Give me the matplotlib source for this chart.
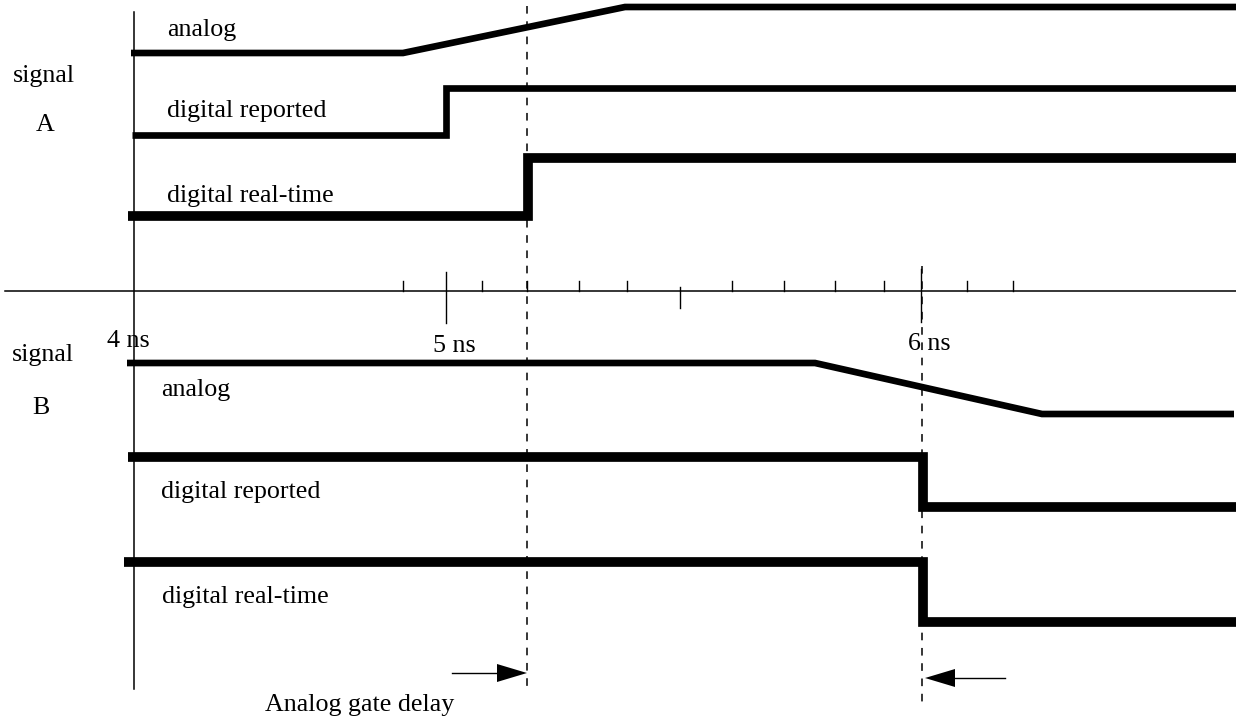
import matplotlib
matplotlib.use("Agg")
from matplotlib import pyplot as plt

# diagram is drawn in picture units (x to the right, y downwards)
axis_x     = 134
axis_y     = 291
axis_top   = 12
axis_bot   = 689
axis_left  = 5
axis_right = 1236

# tick marks on the time axis: position, top, bottom
tick_x   = [403, 446, 482, 527, 579, 627, 680, 732, 784, 835, 884, 921, 967, 1013]
tick_top = [281, 272, 281, 281, 281, 281, 287, 281, 281, 281, 281, 269, 281, 281]
tick_bot = [291, 323, 291, 291, 291, 291, 308, 291, 291, 291, 291, 322, 291, 291]
tick_lab   = ["4 ns", "5 ns", "6 ns"]
tick_lab_x = [107, 433, 908]
tick_lab_y = [347, 352, 350]

# signal A traces
a_analog_x   = [131, 403, 625, 1236]
a_analog_y   = [53, 53, 7, 7]
a_report_x   = [132, 446, 446, 1236]
a_report_y   = [135, 135, 88, 88]
a_real_x     = [128, 528, 528, 1236]
a_real_y     = [216, 216, 158, 158]

# signal B traces
b_analog_x   = [127, 815, 1042, 1234]
b_analog_y   = [363, 363, 414, 414]
b_report_x   = [128, 923, 923, 1236]
b_report_y   = [457, 457, 507, 507]
b_real_x     = [124, 923, 923, 1236]
b_real_y     = [562, 562, 622, 622]

# dashed markers
dash_x   = [527, 922]
dash_top = [6, 266]
dash_bot = [689, 704]

# labels
labels   = ["signal", "A", "analog", "digital reported", "digital real-time",
            "signal", "B", "analog", "digital reported", "digital real-time",
            "Analog gate delay"]
labels_x = [13, 36, 167, 167, 167, 12, 32, 161, 161, 162, 265]
labels_y = [82, 131, 36, 117, 202, 361, 414, 396, 498, 603, 711]

# arrows: tail, tip, y
arrow_tail = [452, 1005]
arrow_tip  = [527, 925]
arrow_y    = [673, 678]
head_len   = 30
head_half  = 9

fig = plt.figure(figsize=(12.36, 7.17), dpi=100)
ax = fig.add_axes([0, 0, 1, 1])
ax.set_xlim(0, 1236)
ax.set_ylim(717, 0)
ax.axis("off")

# axes
ax.plot([axis_x, axis_x], [axis_top, axis_bot], color="black", lw=1.1)
ax.plot([axis_left, axis_right], [axis_y, axis_y], color="black", lw=1.1)
for i in range(len(tick_x)):
    ax.plot([tick_x[i], tick_x[i]], [tick_top[i], tick_bot[i]], color="black", lw=1.0)

# traces
thin  = 4.8
thick = 7.0
traces = [(a_analog_x, a_analog_y, thin), (a_report_x, a_report_y, thin),
          (a_real_x, a_real_y, thick), (b_analog_x, b_analog_y, thin),
          (b_report_x, b_report_y, thick), (b_real_x, b_real_y, thick)]
for xs, ys, w in traces:
    ax.plot(xs, ys, color="black", lw=w, solid_joinstyle="miter", solid_capstyle="butt")

# dashed lines
for i in range(len(dash_x)):
    ax.plot([dash_x[i], dash_x[i]], [dash_top[i], dash_bot[i]], color="black",
            lw=1.1, dashes=(5, 5))

# arrows
for i in range(len(arrow_tip)):
    d = 1 if arrow_tip[i] > arrow_tail[i] else -1
    base = arrow_tip[i] - d*head_len
    ax.plot([arrow_tail[i], base], [arrow_y[i], arrow_y[i]], color="black", lw=1.0)
    ax.fill([base, arrow_tip[i], base],
            [arrow_y[i]-head_half, arrow_y[i], arrow_y[i]+head_half],
            color="black", lw=0)

font = dict(family="Liberation Serif", size=18.7, color="black")
for i in range(len(labels)):
    ax.text(labels_x[i], labels_y[i], labels[i], ha="left", va="baseline", **font)
for i in range(len(tick_lab)):
    ax.text(tick_lab_x[i], tick_lab_y[i], tick_lab[i], ha="left", va="baseline", **font)

fig.savefig("out.png", dpi=100)
